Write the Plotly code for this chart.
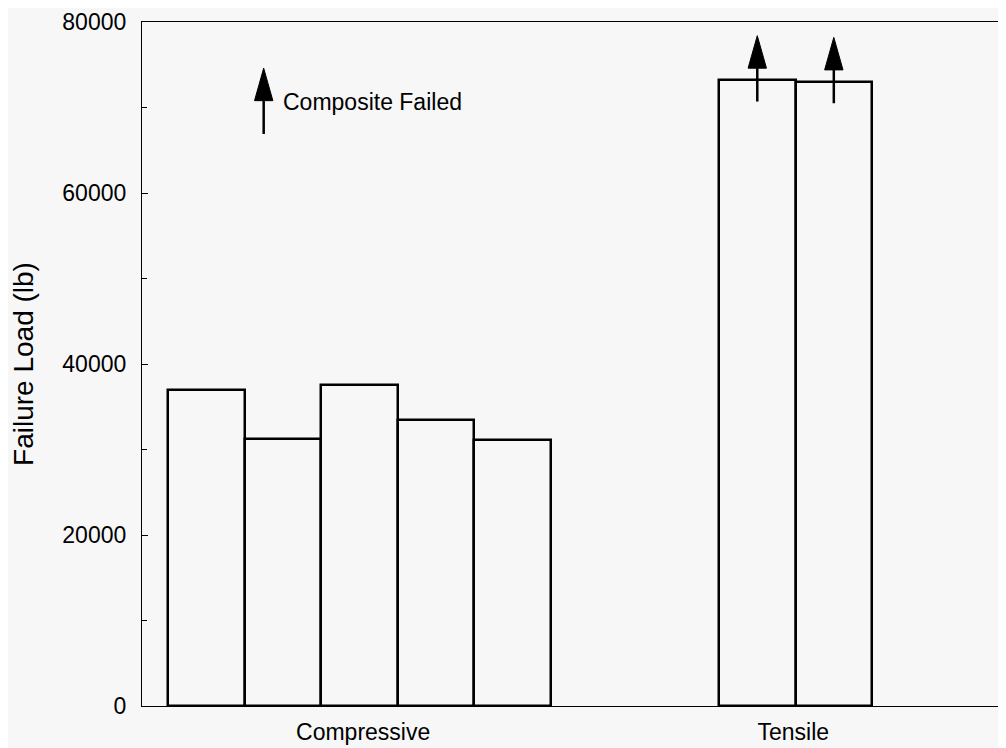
import plotly.graph_objects as go

# bar data (failure load, lb)
comp_x = [1, 2, 3, 4, 5]
comp_load = [37000, 31200, 37500, 33400, 31100]
tens_x = [8.2, 9.2]
tens_load = [73200, 73000]

group_labels = ["Compressive", "Tensile"]
group_pos = [3.05, 8.67]

legend_x = 1.75
legend_load = 66900
legend_text = "Composite Failed"

BG = "#f7f7f7"
FONT = "Liberation Sans, Arial, sans-serif"


def arrow(fig, x, y0):
    # shaft from y0 upward, filled head on top
    shaft = 3900
    head = 3800
    hw = 0.12
    fig.add_shape(type="line", xref="x", yref="y", x0=x, x1=x, y0=y0, y1=y0 + shaft,
                  line=dict(color="black", width=2.5))
    fig.add_shape(type="path", xref="x", yref="y",
                  path=f"M {x-hw},{y0+shaft} L {x},{y0+shaft+head} L {x+hw},{y0+shaft} Z",
                  fillcolor="black", line=dict(color="black", width=1))


fig = go.Figure()
fig.add_trace(go.Bar(x=comp_x + tens_x, y=comp_load + tens_load, width=1,
                     marker=dict(color=BG, line=dict(color="black", width=2.5)),
                     showlegend=False))

for x, v in zip(tens_x, tens_load):
    arrow(fig, x, v - 2500)

arrow(fig, legend_x, legend_load)
fig.add_annotation(x=legend_x + 0.23, y=legend_load + 3700, xref="x", yref="y",
                   text=legend_text, showarrow=False, xanchor="left",
                   font=dict(family=FONT, size=23, color="black"))

# page body has an 8px margin, so the figure is 8px smaller than the window
fig.update_layout(
    width=998, height=740,
    margin=dict(l=134, r=0, t=14, b=42),
    paper_bgcolor=BG, plot_bgcolor=BG,
    font=dict(family=FONT, size=23, color="black"),
    bargap=0,
)
fig.update_xaxes(range=[0.16, 11.45], showgrid=False, zeroline=False,
                 showline=True, linecolor="black", linewidth=1.2, mirror=True,
                 tickvals=group_pos, ticktext=group_labels, ticks="",
                 ticklabelstandoff=5)
fig.update_yaxes(range=[0, 80001], showgrid=False, zeroline=False,
                 showline=True, linecolor="black", linewidth=1.2,
                 tickvals=[0, 20000, 40000, 60000, 80000], tickformat="d",
                 ticks="inside", ticklen=6, tickcolor="black",
                 ticklabelstandoff=10, automargin=False, ticklabeloverflow="allow",
                 minor=dict(ticks="inside", dtick=10000, ticklen=5, tickcolor="black"),
                 title=dict(text="Failure Load (lb)", standoff=24))

fig.write_html("out.html")
